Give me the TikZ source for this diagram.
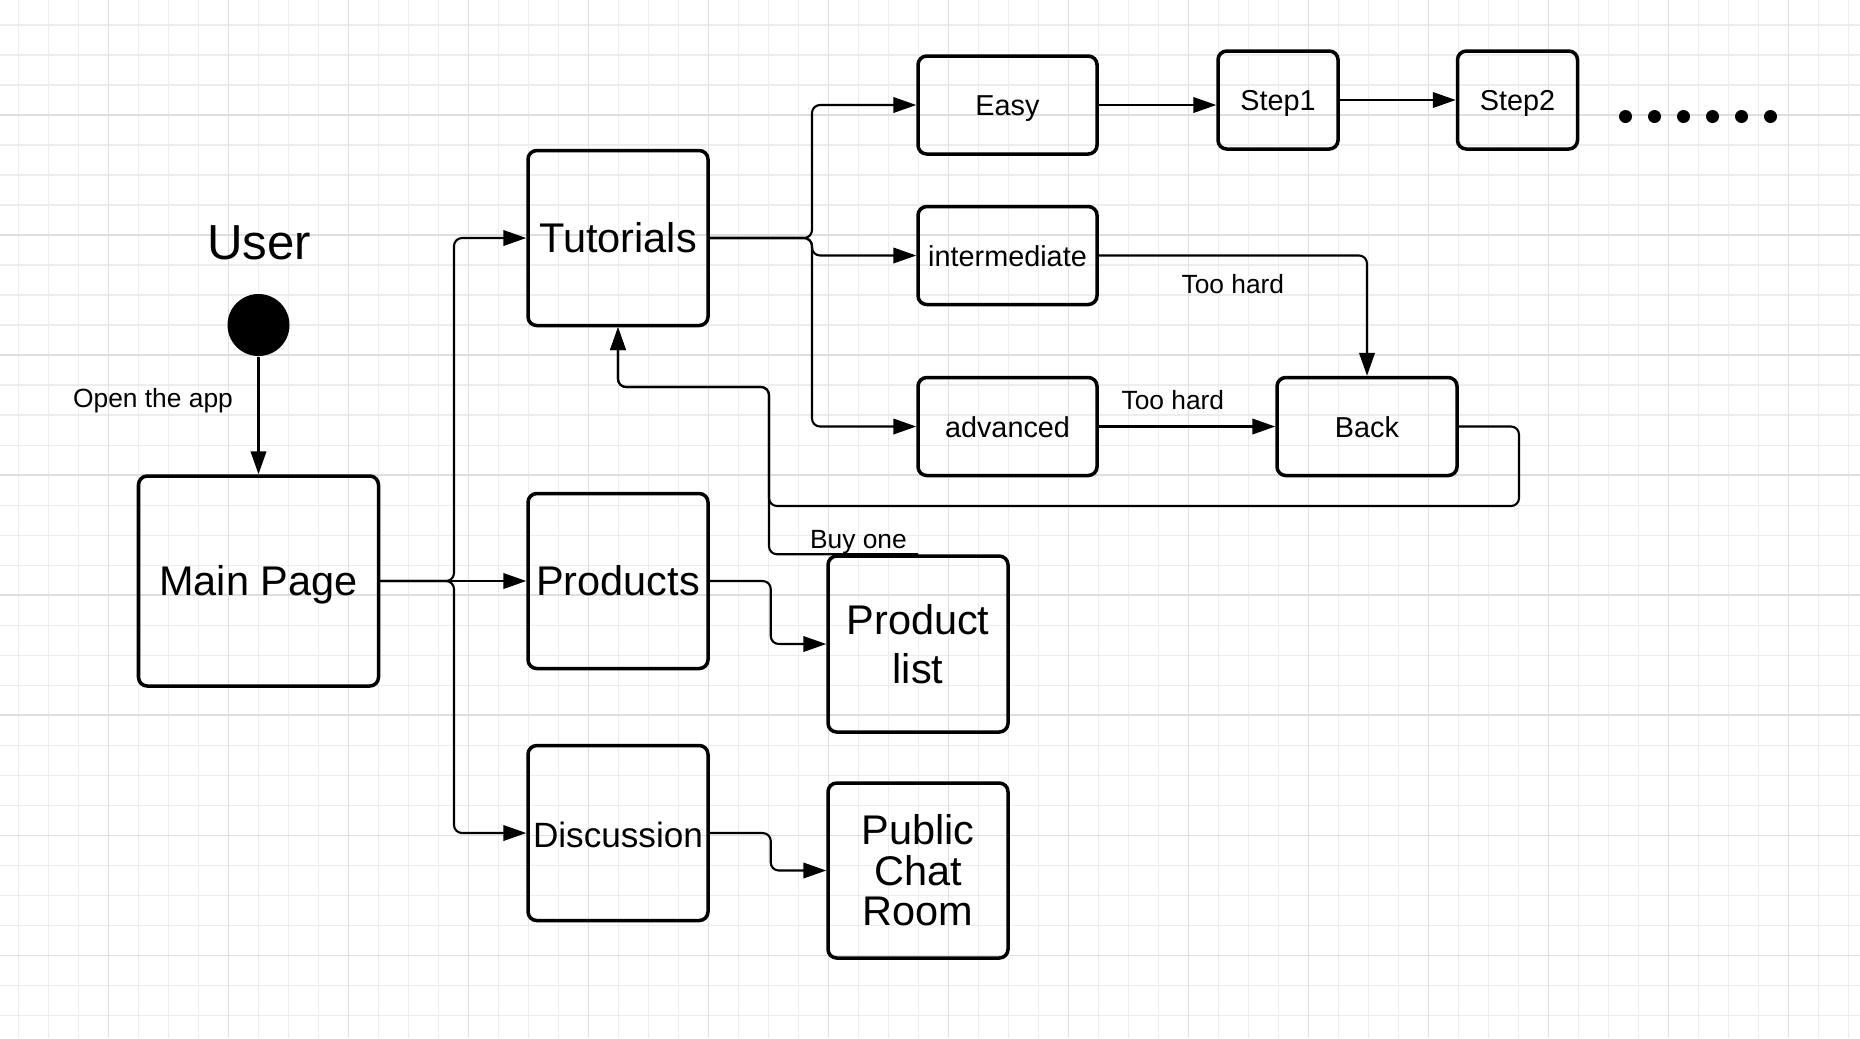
\documentclass[tikz,border=0pt]{standalone}
\usepackage{fontspec}
\setmainfont{Liberation Sans}
\usetikzlibrary{arrows.meta}

\begin{document}
\begin{tikzpicture}[>={Triangle[length=6.5pt,width=4.4pt]},
    box/.style={draw, line width=1pt, rounded corners=2.5pt, align=center, inner sep=0pt},
    onerow/.style={text height=1.7ex, text depth=0.1ex},
    bigbox/.style={box, minimum width=1.8cm, minimum height=1.75cm, font=\fontsize{11.8}{14}\selectfont},
    smallbox/.style={box, text height=1.3ex, text depth=0.15ex, minimum width=1.79cm, minimum height=0.98cm, font=\fontsize{8.2}{10}\selectfont},
    flow/.style={->, line width=0.6pt, rounded corners=0.08cm},
    lbl/.style={font=\fontsize{7.5}{9}\selectfont},
    minorline/.style={black!7, line width=0.3pt},
    majorline/.style={black!13, line width=0.3pt}]
    \useasboundingbox (0,0) rectangle (18.6,-10.38);
    \fill[white] (0,0) rectangle (18.6,-10.38);
    % Background grid
    \foreach \i in {0,...,61} \draw[minorline] ({0.183+0.3*\i},0) -- ++(0,-10.38);
    \foreach \j in {0,...,33} \draw[minorline] (0,{-0.25-0.3*\j}) -- ++(18.6,0);
    \foreach \i in {0,...,14} \draw[majorline] ({1.083+1.2*\i},0) -- ++(0,-10.38);
    \foreach \j in {0,...,7} \draw[majorline] (0,{-1.15-1.2*\j}) -- ++(18.6,0);
    % User and start point
    \node[font=\fontsize{14}{16}\selectfont] (user) at (2.59,-2.43) {User};
    \node[circle, fill, minimum size=0.62cm, inner sep=0pt] (start) at (2.585,-3.25) {};
    % Pages
    \node[bigbox, onerow, minimum width=2.4cm, minimum height=2.1cm] (main) at (2.585,-5.81) {Main Page};
    \node[bigbox, onerow] (tut) at (6.18,-2.38) {Tutorials};
    \node[bigbox, onerow] (prod) at (6.18,-5.81) {Products};
    \node[bigbox, onerow, font=\fontsize{10}{12}\selectfont] (disc) at (6.18,-8.33) {Discussion};
    \node[bigbox, minimum height=1.76cm] (plist) at (9.18,-6.44) {Product\\list};
    \node[bigbox, font=\fontsize{11.8}{11.5}\selectfont] (chat) at (9.18,-8.705) {Public\\Chat\\Room};
    % Levels and steps
    \node[smallbox] (easy) at (10.075,-1.05) {Easy};
    \node[smallbox] (inter) at (10.075,-2.555) {intermediate};
    \node[smallbox] (adv) at (10.075,-4.265) {advanced};
    \node[smallbox, minimum width=1.8cm] (back) at (13.67,-4.265) {Back};
    \node[smallbox, minimum width=1.2cm] (step1) at (12.78,-1.00) {Step1};
    \node[smallbox, minimum width=1.2cm] (step2) at (15.175,-1.00) {Step2};
    \foreach \k in {0,...,5} \fill (16.255+0.29*\k,-1.165) circle (0.065);
    % Junction points
    \coordinate (mj) at (4.54,-5.81);
    \coordinate (tj) at (8.12,-2.38);
    \coordinate (loop) at (15.19,-5.06);
    \coordinate (vj) at (7.69,-3.87);
    % Connectors
    \draw[flow] (start) -- node[lbl, pos=0.375, xshift=-1.055cm] {Open the app} (main);
    \draw[flow] (main.east) -- (mj) |- (tut.west);
    \draw[flow] (main.east) -- (prod.west);
    \draw[flow] (main.east) -- (mj) |- (disc.west);
    \foreach \n in {easy,inter,adv} \draw[flow] (tut.east) -- (tj) |- (\n.west);
    \draw[flow] (easy) -- (step1.west |- easy);
    \draw[flow] (step1) -- (step2);
    \draw[flow] (inter.east) -| node[lbl, pos=0.25, yshift=-0.29cm] {Too hard} (back.north);
    \draw[flow] (adv) -- node[lbl, pos=0.42, yshift=0.265cm] {Too hard} (back);
    \draw[flow] (back.east) -| (loop) -| (vj) -| (tut.south);
    \draw[flow] (plist.north) -| node[lbl, pos=0.2, yshift=0.125cm] {Buy one} (vj) -| (tut.south);
    \draw[flow] (prod.east) -- ++(0.61,0) |- (plist.west);
    \draw[flow] (disc.east) -- ++(0.61,0) |- (chat.west);
\end{tikzpicture}
\end{document}
